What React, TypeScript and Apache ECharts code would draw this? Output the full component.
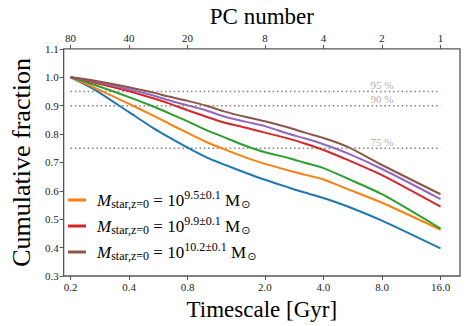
import React, { useEffect, useRef } from "react";
import * as echarts from "echarts";

// PC number nodes -> timescale = 16 / PC number (Gyr)
const timescale = [0.2, 0.267, 0.4, 0.533, 0.64, 0.8, 1.0, 1.23, 1.6, 2.0, 2.67, 3.2, 4.0, 5.33, 8.0, 16.0];
const blueVals = [1.0, 0.956, 0.877, 0.821, 0.789, 0.752, 0.718, 0.693, 0.663, 0.639, 0.611, 0.594, 0.575, 0.545, 0.495, 0.397];
const orangeVals = [1.0, 0.963, 0.906, 0.865, 0.837, 0.804, 0.772, 0.747, 0.717, 0.695, 0.671, 0.657, 0.64, 0.606, 0.558, 0.463];
const greenVals = [1.0, 0.973, 0.93, 0.897, 0.874, 0.845, 0.814, 0.789, 0.758, 0.736, 0.715, 0.699, 0.68, 0.643, 0.588, 0.467];
const redVals = [1.0, 0.981, 0.951, 0.926, 0.908, 0.884, 0.861, 0.841, 0.822, 0.805, 0.783, 0.767, 0.744, 0.709, 0.655, 0.544];
const purpleVals = [1.0, 0.985, 0.958, 0.936, 0.919, 0.901, 0.883, 0.862, 0.843, 0.828, 0.80, 0.785, 0.764, 0.732, 0.677, 0.571];
const brownVals = [1.0, 0.988, 0.965, 0.946, 0.932, 0.917, 0.9, 0.88, 0.86, 0.845, 0.822, 0.805, 0.786, 0.755, 0.691, 0.588];

const xTickValues = [0.2, 0.4, 0.8, 2.0, 4.0, 8.0, 16.0];
const pcTickLabels = ["80", "40", "20", "8", "4", "2", "1"];
const thresholds = [0.95, 0.9, 0.75];
const thresholdLabels = ["95 %", "90 %", "75 %"];
const thresholdLabelX = 8.0;
const legendExponents = ["9.5±0.1", "9.9±0.1", "10.2±0.1"];

const FONT = "Liberation Serif";
const COLORS = ["#1f77b4", "#ff7f0e", "#2ca02c", "#d62728", "#9467bd", "#8c564b"];
const FRAME = "#555555";

export default function App() {
  const ref = useRef<HTMLDivElement>(null);
  useEffect(() => {
    if (!ref.current) return;
    const chart = echarts.init(ref.current, undefined, { renderer: "svg" });
    const lines = [blueVals, orangeVals, greenVals, redVals, purpleVals, brownVals];
    const names = ["blue", "L0", "green", "L1", "purple", "L2"];
    const nearestIdx = (v: number) => {
      let best = 0;
      for (let i = 0; i < xTickValues.length; i++) {
        if (Math.abs(Math.log(xTickValues[i]) - Math.log(v)) < Math.abs(Math.log(xTickValues[best]) - Math.log(v))) best = i;
      }
      return best;
    };
    const lineSeries = lines.map((vals, k) => ({
      name: names[k],
      type: "line",
      data: timescale.map((t, i) => [t, vals[i]]),
      symbol: "none",
      smooth: 0.25,
      lineStyle: { color: COLORS[k], width: 2 },
      itemStyle: { color: COLORS[k] },
      z: 5 + k,
      silent: true,
    }));
    const dotted = thresholds.map((v) => ({
      type: "line",
      data: [[xTickValues[0], v], [xTickValues[xTickValues.length - 1], v]],
      symbol: "none",
      lineStyle: { color: "#808080", width: 1.5, type: [1.5, 2.8] },
      silent: true,
      z: 2,
    }));
    const labelSeries = {
      type: "scatter",
      symbolSize: 0,
      silent: true,
      data: thresholds.map((v, i) => [thresholdLabelX, v, thresholdLabels[i]]),
      label: {
        show: true,
        position: "top",
        distance: 1,
        formatter: (p: any) => p.data[2],
        color: "#999999",
        fontSize: 11,
        fontFamily: FONT,
      },
    };
    const axisCommon = {
      type: "log",
      logBase: 2,
      min: 0.1843,
      max: 20.15,
      splitLine: { show: false },
      axisLine: { show: false },
      axisTick: { show: true, inside: false, length: 4, lineStyle: { color: FRAME }, customValues: xTickValues },
    };
    chart.setOption({
      animation: false,
      textStyle: { fontFamily: FONT },
      grid: { left: 52, right: 9, top: 43, bottom: 49, show: true, borderColor: FRAME, borderWidth: 1.3, backgroundColor: "transparent" },
      xAxis: [
        {
          ...axisCommon,
          position: "bottom",
          name: "Timescale [Gyr]",
          nameLocation: "middle",
          nameGap: 22,
          nameTextStyle: { fontSize: 23, fontFamily: FONT, color: "#000" },
          axisLabel: {
            customValues: xTickValues,
            formatter: (v: number) => xTickValues[nearestIdx(v)].toFixed(1),
            fontSize: 11,
            fontFamily: FONT,
            color: "#222",
            margin: 5,
          },
        },
        {
          ...axisCommon,
          position: "top",
          name: "PC number",
          nameLocation: "middle",
          nameGap: 20,
          nameTextStyle: { fontSize: 23, fontFamily: FONT, color: "#000" },
          axisLabel: {
            customValues: xTickValues,
            formatter: (v: number) => pcTickLabels[nearestIdx(v)],
            fontSize: 11,
            fontFamily: FONT,
            color: "#222",
            margin: 5,
          },
        },
      ],
      yAxis: {
        type: "value",
        min: 0.3,
        max: 1.1,
        interval: 0.1,
        name: "Cumulative fraction",
        nameLocation: "middle",
        nameGap: 25,
        nameRotate: 90,
        nameTextStyle: { fontSize: 26, fontFamily: FONT, color: "#000" },
        splitLine: { show: false },
        axisLine: { show: false },
        axisTick: { show: true, inside: false, length: 4, lineStyle: { color: FRAME } },
        axisLabel: {
          formatter: (v: number) => v.toFixed(1),
          fontSize: 11,
          fontFamily: FONT,
          color: "#222",
          margin: 5,
        },
      },
      legend: {
        data: ["L0", "L1", "L2"],
        orient: "vertical",
        left: 63,
        top: 183,
        itemWidth: 18,
        itemHeight: 3,
        icon: "rect",
        itemGap: 2,
        selectedMode: false,
        formatter: (name: string) => {
          const idx = ["L0", "L1", "L2"].indexOf(name);
          return `{m|M}{sub|star,z=0}{t| = 10}{sup|${legendExponents[idx]}}{t| M}{sun|⊙}`;
        },
        textStyle: {
          fontFamily: FONT,
          padding: [0, 0, 0, 6],
          rich: {
            m: { fontStyle: "italic", fontSize: 17, fontFamily: FONT, color: "#000", lineHeight: 24, verticalAlign: "middle" },
            t: { fontSize: 17, fontFamily: FONT, color: "#000", lineHeight: 24, verticalAlign: "middle" },
            sub: { fontSize: 12, fontFamily: FONT, color: "#000", verticalAlign: "bottom", lineHeight: 13, padding: [0, 0, 2, 0] },
            sup: { fontSize: 12, fontFamily: FONT, color: "#000", verticalAlign: "top", lineHeight: 13, padding: [1, 0, 0, 0] },
            sun: { fontSize: 11, fontFamily: "DejaVu Sans", color: "#000", verticalAlign: "bottom", lineHeight: 12, padding: [0, 0, 2, 1] },
          },
        },
      },
      series: [...dotted, labelSeries, ...lineSeries],
    });
    return () => chart.dispose();
  }, []);
  return <div ref={ref} style={{ position: "absolute", left: 0, top: 0, width: 469, height: 326 }} />;
}
